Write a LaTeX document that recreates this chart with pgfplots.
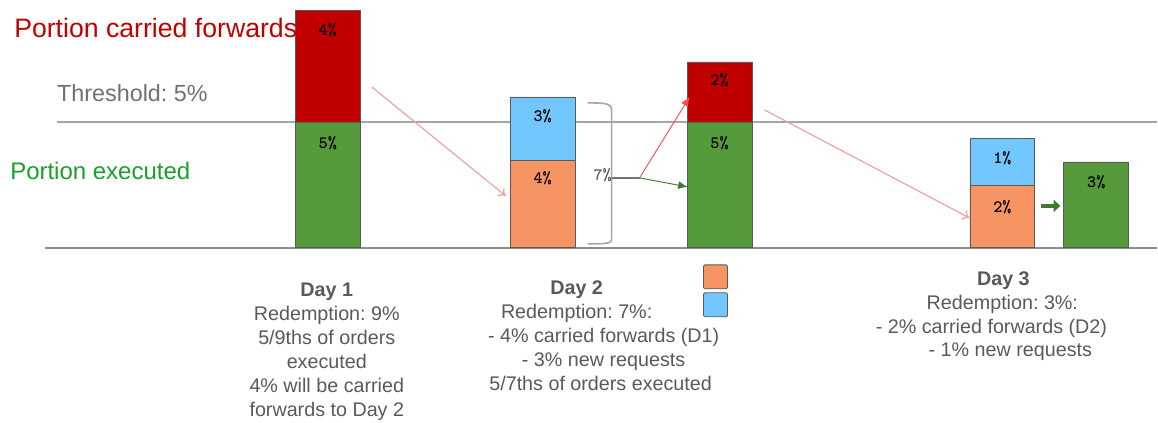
\documentclass[border=0pt]{standalone}
\usepackage{pgfplots}
\pgfplotsset{compat=1.18}
\usepackage{fontspec}
\setmainfont{Liberation Sans}
\usetikzlibrary{arrows.meta}
\definecolor{cred}{HTML}{C00000}
\definecolor{cgreen}{HTML}{559A3B}
\definecolor{corange}{HTML}{F79463}
\definecolor{cblue}{HTML}{73C7FF}
\definecolor{barline}{HTML}{5A5A5A}
\definecolor{tgreen}{HTML}{1AA02A}
\definecolor{tgray}{HTML}{707070}
\definecolor{dgray}{HTML}{595959}
\definecolor{larrow}{HTML}{F2A0A0}
\definecolor{darrow}{HTML}{3E7B2E}
\frenchspacing
\begin{document}
\begin{tikzpicture}
\begin{axis}[
  width=868.5pt, height=317.25pt, scale only axis,
  xmin=0, xmax=1158, ymin=-6.944, ymax=9.841,
  hide axis, clip=false,
]
\path (rel axis cs:0,0) rectangle (rel axis cs:1,1);
% reference lines
\draw[color=black!35, line width=0.9pt] (axis cs:57,5) -- (axis cs:1158,5);
\draw[color=black!45, line width=1.1pt] (axis cs:45,0) -- (axis cs:1158,0);
% bars (upper segments drawn as totals, lower segments on top)
\addplot[ybar, bar width=65, fill=cred, draw=barline, line width=0.6pt] coordinates {(328,9.44) (720,7.38)};
\addplot[ybar, bar width=65, fill=cblue, draw=barline, line width=0.6pt] coordinates {(543,5.99) (1003,4.33)};
\addplot[ybar, bar width=65, fill=cgreen, draw=barline, line width=0.6pt] coordinates {(328,5) (720,5) (1097,3.41)};
\addplot[ybar, bar width=65, fill=corange, draw=barline, line width=0.6pt] coordinates {(543,3.49) (1003,2.46)};
% bar labels
\begin{scope}[every node/.style={font=\ttfamily\bfseries\fontsize{13}{15}\selectfont, text=black, inner sep=0pt}]
\node at (axis cs:328,8.651) {4\%};
\node at (axis cs:328,4.167) {5\%};
\node at (axis cs:543,5.238) {3\%};
\node at (axis cs:543,2.778) {4\%};
\node at (axis cs:720,6.667) {2\%};
\node at (axis cs:720,4.167) {5\%};
\node at (axis cs:1003,3.571) {1\%};
\node at (axis cs:1003,1.627) {2\%};
\node at (axis cs:1097,2.619) {3\%};
\end{scope}
% side texts
\node[anchor=west, inner sep=0pt, text=cred, font=\fontsize{20}{24}\selectfont] at (axis cs:14,8.73) {Portion carried forwards};
\node[anchor=west, inner sep=0pt, text=tgray, font=\fontsize{17.5}{20}\selectfont] at (axis cs:57,6.151) {Threshold: 5\%};
\node[anchor=west, inner sep=0pt, text=tgreen, font=\fontsize{18}{22}\selectfont] at (axis cs:10,3.056) {Portion executed};
% long light red arrows
\draw[larrow, line width=0.9pt, -{To[length=5pt,width=8pt]}] (axis cs:372,6.389) -- (axis cs:506,2.063);
\draw[larrow, line width=0.9pt, -{To[length=5pt,width=8pt]}] (axis cs:765,5.476) -- (axis cs:970,1.190);
% bracket
\draw[color=black!35, line width=1.2pt] (axis cs:588,5.754) .. controls (axis cs:604,5.754) and (axis cs:612,5.754) .. (axis cs:612,5.476) -- (axis cs:612,0.317) .. controls (axis cs:612,0.159) and (axis cs:604,0.159) .. (axis cs:588,0.159);
\draw[color=black!55, line width=1.6pt] (axis cs:612,2.778) -- (axis cs:640,2.778);
\node[inner sep=0pt, text=black!65, font=\ttfamily\bfseries\fontsize{13}{15}\selectfont] at (axis cs:603,2.897) {7\%};
\draw[color=red!70, line width=0.7pt, -{Latex[length=7pt,width=6pt]}] (axis cs:640,2.778) -- (axis cs:690,5.992);
\draw[color=darrow, line width=0.7pt, -{Latex[length=7pt,width=6pt]}] (axis cs:640,2.778) -- (axis cs:688,2.421);
% thick green arrow
\draw[color=darrow, line width=3pt, -{Triangle[length=5pt,width=9pt]}] (axis cs:1042,1.667) -- (axis cs:1061,1.667);
% small legend squares
\draw[fill=corange, draw=barline, line width=0.6pt, rounded corners=1pt] (axis cs:704,-0.675) rectangle (axis cs:728,-1.627);
\draw[fill=cblue, draw=barline, line width=0.6pt, rounded corners=1pt] (axis cs:704,-1.786) rectangle (axis cs:728,-2.738);
% day texts
\begin{scope}[every node/.style={anchor=base, inner sep=0pt, text=dgray, font=\fontsize{14.8}{18}\selectfont}]
\node[font=\bfseries\fontsize{14.8}{18}\selectfont] at (axis cs:327,-1.944) {Day 1};
\node at (axis cs:327,-2.897) {Redemption: 9\%};
\node at (axis cs:327,-3.849) {5/9ths of orders};
\node at (axis cs:327,-4.802) {executed};
\node at (axis cs:327,-5.754) {4\% will be carried};
\node at (axis cs:327,-6.706) {forwards to Day 2};
\node[font=\bfseries\fontsize{14.8}{18}\selectfont] at (axis cs:577,-1.865) {Day 2};
\node at (axis cs:577,-2.817) {Redemption: 7\%:};
\node at (axis cs:604,-3.770) {- 4\% carried forwards (D1)};
\node at (axis cs:604,-4.722) {- 3\% new requests};
\node at (axis cs:601,-5.675) {5/7ths of orders executed};
\node[font=\bfseries\fontsize{14.8}{18}\selectfont] at (axis cs:1004,-1.508) {Day 3};
\node at (axis cs:1003,-2.460) {Redemption: 3\%:};
\node at (axis cs:992,-3.413) {- 2\% carried forwards (D2)};
\node at (axis cs:1011,-4.325) {- 1\% new requests};
\end{scope}
\end{axis}
\end{tikzpicture}
\end{document}
